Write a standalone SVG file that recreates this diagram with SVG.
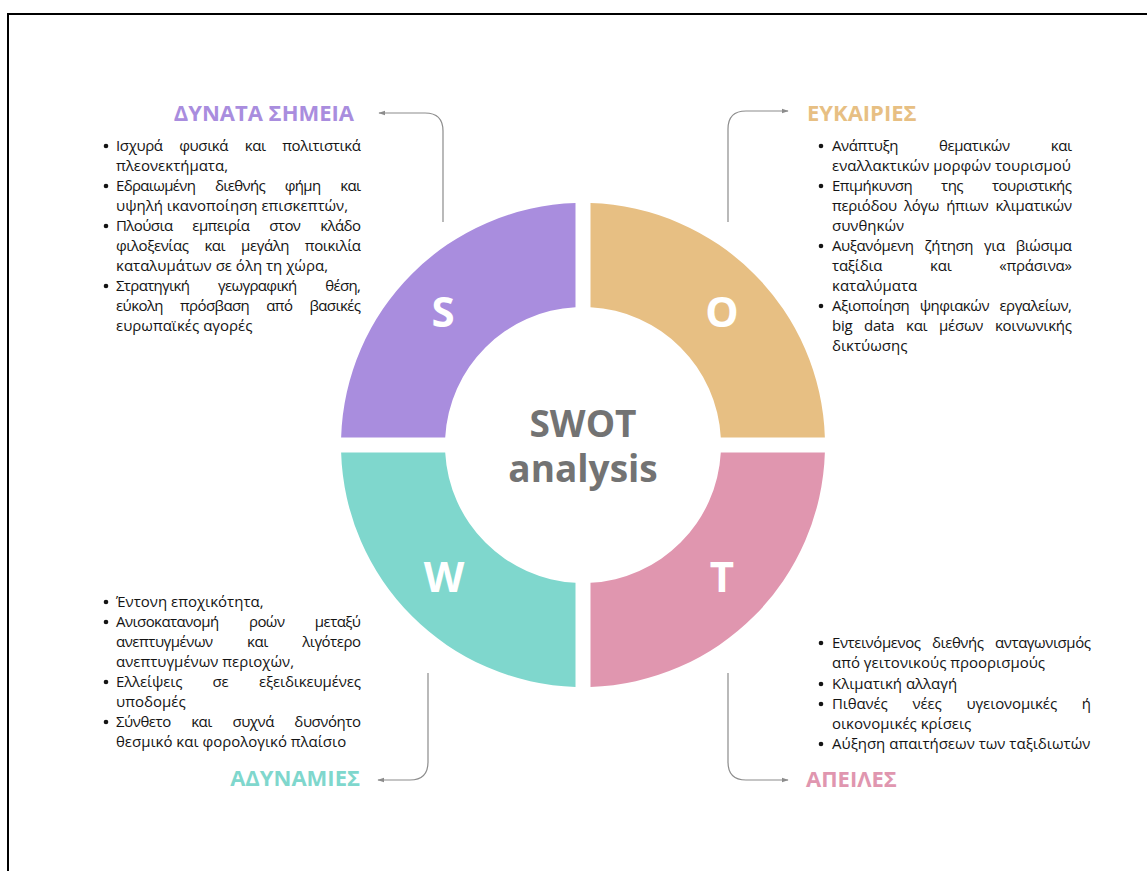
<svg xmlns="http://www.w3.org/2000/svg" width="1147" height="871" viewBox="0 0 1147 871">
<style>
.b{font-family:"Open Sans","Noto Sans",sans-serif;font-size:15px;fill:#141414}
.e{text-anchor:end}
.h{font-family:"Open Sans","Noto Sans",sans-serif;font-size:22px;font-weight:700}
.l{font-family:"Open Sans","Noto Sans",sans-serif;font-size:42px;font-weight:700;fill:#fff;text-anchor:middle}
.c{font-family:"Open Sans","Noto Sans",sans-serif;font-size:37px;font-weight:700;fill:#737373;text-anchor:middle}
.con{fill:none;stroke:#8c8c8c;stroke-width:1.2}
.dot{fill:#141414}
</style>
<defs>
<marker id="ah" viewBox="0 0 10 10" refX="9" refY="5" markerWidth="7" markerHeight="7" orient="auto-start-reverse" markerUnits="userSpaceOnUse">
<path d="M0,1.5 L10,5 L0,8.5 Z" fill="#8c8c8c"/>
</marker>
</defs>
<rect width="1147" height="871" fill="#fff"/>
<path d="M8,871 V14 H1147" fill="none" stroke="#000" stroke-width="2"/>

<g id="connectors">
<path class="con" d="M443,222 V131 Q443,113 425,113 H379" marker-end="url(#ah)"/>
<path class="con" d="M728,222 V129 Q728,111 746,111 H788" marker-end="url(#ah)"/>
<path class="con" d="M728,673 V762 Q728,780 746,780 H788" marker-end="url(#ah)"/>
<path class="con" d="M428,673 V762 Q428,780 410,780 H378" marker-end="url(#ah)"/>
</g>

<g id="center">
<text class="c"><tspan x="583" y="437">SWOT</tspan><tspan x="583" y="482">analysis</tspan></text>
</g>

<g id="strengths">
<path d="M575.5,203.12 A242,242 0 0 0 341.12,437.5 L445.2,437.5 A138,138 0 0 1 575.5,307.2 Z" fill="#a98dde"/>
<text class="l" x="443" y="327">S</text>
<text class="h e" x="354" y="121" fill="#a98dde">ΔΥΝΑΤΑ ΣΗΜΕΙΑ</text>
<circle class="dot" cx="106" cy="146" r="2.3"/>
<circle class="dot" cx="106" cy="186" r="2.3"/>
<circle class="dot" cx="106" cy="226" r="2.3"/>
<circle class="dot" cx="106" cy="286" r="2.3"/>
<text class="b" x="116" y="151" textLength="245" lengthAdjust="spacing" style="word-spacing:13px">Ισχυρά φυσικά και πολιτιστικά</text>
<text class="b" x="116" y="171">πλεονεκτήματα,</text>
<text class="b" x="116" y="191" textLength="245" lengthAdjust="spacing" style="word-spacing:16.5px">Εδραιωμένη διεθνής φήμη και</text>
<text class="b" x="116" y="211">υψηλή ικανοποίηση επισκεπτών,</text>
<text class="b" x="116" y="231" textLength="245" lengthAdjust="spacing" style="word-spacing:16.5px">Πλούσια εμπειρία στον κλάδο</text>
<text class="b" x="116" y="251" textLength="245" lengthAdjust="spacing" style="word-spacing:12.3px">φιλοξενίας και μεγάλη ποικιλία</text>
<text class="b" x="116" y="271">καταλυμάτων σε όλη τη χώρα,</text>
<text class="b" x="116" y="291" textLength="245" lengthAdjust="spacing" style="word-spacing:25.5px">Στρατηγική γεωγραφική θέση,</text>
<text class="b" x="116" y="311" textLength="245" lengthAdjust="spacing" style="word-spacing:13.7px">εύκολη πρόσβαση από βασικές</text>
<text class="b" x="116" y="331">ευρωπαϊκές αγορές</text>
</g>

<g id="opportunities">
<path d="M590.5,203.12 A242,242 0 0 1 824.88,437.5 L720.8,437.5 A138,138 0 0 0 590.5,307.2 Z" fill="#e7bf83"/>
<text class="l" x="722" y="327">O</text>
<text class="h" x="807" y="121" fill="#e7bf83">ΕΥΚΑΙΡΙΕΣ</text>
<circle class="dot" cx="821" cy="146" r="2.3"/>
<circle class="dot" cx="821" cy="186" r="2.3"/>
<circle class="dot" cx="821" cy="246" r="2.3"/>
<circle class="dot" cx="821" cy="306" r="2.3"/>
<text class="b" x="832" y="151" textLength="240" lengthAdjust="spacing" style="word-spacing:37.5px">Ανάπτυξη θεματικών και</text>
<text class="b" x="832" y="171">εναλλακτικών μορφών τουρισμού</text>
<text class="b" x="832" y="191" textLength="240" lengthAdjust="spacing" style="word-spacing:25.5px">Επιμήκυνση της τουριστικής</text>
<text class="b" x="832" y="211" textLength="240" lengthAdjust="spacing" style="word-spacing:3.5px">περιόδου λόγω ήπιων κλιματικών</text>
<text class="b" x="832" y="231">συνθηκών</text>
<text class="b" x="832" y="251" textLength="240" lengthAdjust="spacing" style="word-spacing:7.5px">Αυξανόμενη ζήτηση για βιώσιμα</text>
<text class="b" x="832" y="271" textLength="240" lengthAdjust="spacing" style="word-spacing:44px">ταξίδια και «πράσινα»</text>
<text class="b" x="832" y="291">καταλύματα</text>
<text class="b" x="832" y="311" textLength="240" lengthAdjust="spacing" style="word-spacing:7px">Αξιοποίηση ψηφιακών εργαλείων,</text>
<text class="b" x="832" y="331" textLength="240" lengthAdjust="spacing" style="word-spacing:8px">big data και μέσων κοινωνικής</text>
<text class="b" x="832" y="351">δικτύωσης</text>
</g>

<g id="weaknesses">
<path d="M341.12,452.5 A242,242 0 0 0 575.5,686.88 L575.5,582.8 A138,138 0 0 1 445.2,452.5 Z" fill="#7fd7cd"/>
<text class="l" x="444" y="592">W</text>
<text class="h e" x="360" y="786" fill="#7fd7cd">ΑΔΥΝΑΜΙΕΣ</text>
<circle class="dot" cx="106" cy="602" r="2.3"/>
<circle class="dot" cx="106" cy="622" r="2.3"/>
<circle class="dot" cx="106" cy="682" r="2.3"/>
<circle class="dot" cx="106" cy="722" r="2.3"/>
<text class="b" x="116" y="607">Έντονη εποχικότητα,</text>
<text class="b" x="116" y="627" textLength="245" lengthAdjust="spacing" style="word-spacing:27px">Ανισοκατανομή ροών μεταξύ</text>
<text class="b" x="116" y="647" textLength="245" lengthAdjust="spacing" style="word-spacing:31px">ανεπτυγμένων και λιγότερο</text>
<text class="b" x="116" y="667">ανεπτυγμένων περιοχών,</text>
<text class="b" x="116" y="687" textLength="245" lengthAdjust="spacing" style="word-spacing:26.5px">Ελλείψεις σε εξειδικευμένες</text>
<text class="b" x="116" y="707">υποδομές</text>
<text class="b" x="116" y="727" textLength="245" lengthAdjust="spacing" style="word-spacing:17px">Σύνθετο και συχνά δυσνόητο</text>
<text class="b" x="116" y="747">θεσμικό και φορολογικό πλαίσιο</text>
</g>

<g id="threats">
<path d="M824.88,452.5 A242,242 0 0 1 590.5,686.88 L590.5,582.8 A138,138 0 0 0 720.8,452.5 Z" fill="#e096af"/>
<text class="l" x="722" y="592">T</text>
<text class="h" x="806" y="787" fill="#e096af">ΑΠΕΙΛΕΣ</text>
<circle class="dot" cx="821" cy="643" r="2.3"/>
<circle class="dot" cx="821" cy="684" r="2.3"/>
<circle class="dot" cx="821" cy="704" r="2.3"/>
<circle class="dot" cx="821" cy="744" r="2.3"/>
<text class="b" x="832" y="648" textLength="259" lengthAdjust="spacing" style="word-spacing:8px">Εντεινόμενος διεθνής ανταγωνισμός</text>
<text class="b" x="832" y="668">από γειτονικούς προορισμούς</text>
<text class="b" x="832" y="689">Κλιματική αλλαγή</text>
<text class="b" x="832" y="709" textLength="259" lengthAdjust="spacing" style="word-spacing:21px">Πιθανές νέες υγειονομικές ή</text>
<text class="b" x="832" y="729">οικονομικές κρίσεις</text>
<text class="b" x="832" y="749">Αύξηση απαιτήσεων των ταξιδιωτών</text>
</g>
</svg>
